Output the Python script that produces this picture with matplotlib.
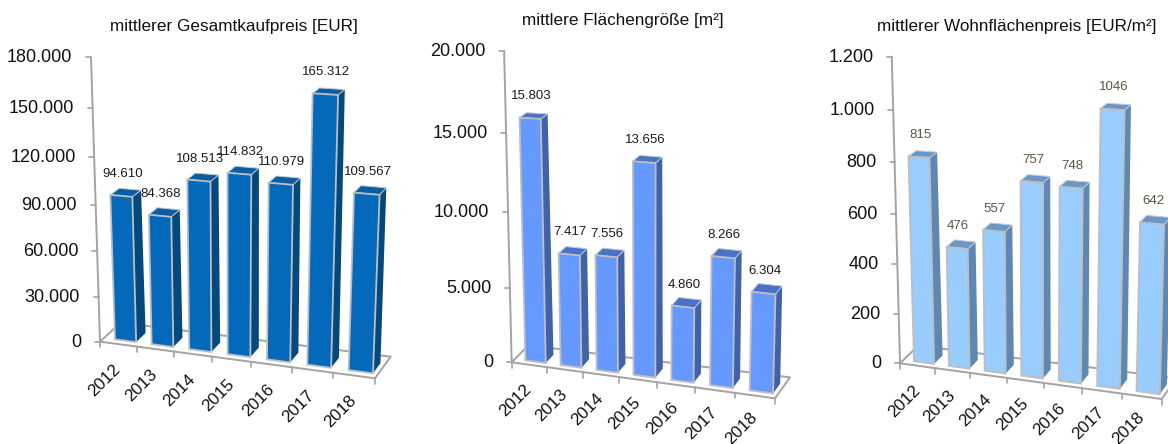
import matplotlib
matplotlib.use("Agg")
import matplotlib.pyplot as plt
from matplotlib.patches import Polygon

plt.rcParams['font.family'] = ['Liberation Sans', 'DejaVu Sans']

years = [2012, 2013, 2014, 2015, 2016, 2017, 2018]

kaufpreis = [94610, 84368, 108513, 114832, 110979, 165312, 109567]
kaufpreis_ticks = [0, 30000, 60000, 90000, 120000, 150000, 180000]

flaeche = [15803, 7417, 7556, 13656, 4860, 8266, 6304]
flaeche_ticks = [0, 5000, 10000, 15000, 20000]

wohnpreis = [815, 476, 557, 757, 748, 1046, 642]
wohnpreis_ticks = [0, 200, 400, 600, 800, 1000, 1200]

titles = ["mittlerer Gesamtkaufpreis [EUR]", "mittlere Flächengröße [m²]",
          "mittlerer Wohnflächenpreis [EUR/m²]"]


def de(v):
    return f"{v:,}".replace(",", ".")


class Panel:
    """Perspective projection of (category u, depth d, value v) to figure pixels."""

    def __init__(self, ox, FL, FR, BL, BR, a, b, xc, k, vmax):
        self.ox, self.FL, self.FR, self.BL, self.BR = ox, FL, FR, BL, BR
        self.a, self.b, self.xc, self.k, self.vmax = a, b, xc, k, vmax

    def warp(self, u):
        s = u / 7
        c = 0.08
        return s * (1 - c) / (1 - c * s)

    def floor(self, u, d):
        w = self.warp(u)
        fx = self.FL[0] + (self.FR[0] - self.FL[0]) * w
        fy = self.FL[1] + (self.FR[1] - self.FL[1]) * w
        bx = self.BL[0] + (self.BR[0] - self.BL[0]) * w
        by = self.BL[1] + (self.BR[1] - self.BL[1]) * w
        return fx, fy, bx - fx, by - fy

    def zoom_xy(self, u, d, v):
        fx, fy, dx, dy = self.floor(u, d)
        t = v / self.vmax
        x = fx + dx * d * (1 - 0.15 * t)
        y = fy + dy * d * (1 - 0.5 * t)
        off = fx - self.FL[0]
        scale = 1 + 0.008 * min(off / 40, 1) + 0.055 * max(off - 40, 0) / 700
        h = self.a * t / (1 + self.b * t) * scale
        return x + self.k * (fx - self.xc) * t, y - h

    def xy(self, u, d, v):
        x, y = self.zoom_xy(u, d, v)
        return self.ox + x / 3, y / 3


panels = [
    Panel(0, (300, 1025), (1125, 1135), (362, 968), (1172, 1070), 795, -0.068, 660, 0.075, 180000),
    Panel(400, (335, 1087), (1125, 1195), (385, 1036), (1170, 1132), 873, -0.066, 713, 0.06, 20000),
    Panel(800, (300, 1090), (1085, 1197), (355, 1037), (1130, 1135), 875, -0.049, 680, 0.065, 1200),
]
series = [kaufpreis, flaeche, wohnpreis]
tick_sets = [kaufpreis_ticks, flaeche_ticks, wohnpreis_ticks]
face_colors = [("#0469BB", "#02497F", "#0A5CA3"),
               ("#6699FF", "#3F62AB", "#4A72C6"),
               ("#99CCFF", "#5F87B3", "#6B96C6")]
value_colors = ["#1a1a1a", "#1a1a1a", "#5A5540"]
title_xy = [(234, 27), (623, 20), (1017, 26)]
label_rise = [0, 0.6, 0.6]

AXIS = "#A3A3A3"
EDGE = "#BEBEBE"
D0, D1 = 0.2, 0.67
U0, U1 = 0.3, 0.88

fig = plt.figure(figsize=(11.68, 4.44), dpi=100, facecolor="white")
ax = fig.add_axes([0, 0, 1, 1])
ax.set_xlim(0, 1168)
ax.set_ylim(444, 0)
ax.axis("off")


def line(pts, lw=1.4, z=1):
    ax.plot([p[0] for p in pts], [p[1] for p in pts], color=AXIS, lw=lw, zorder=z,
            solid_capstyle="round", solid_joinstyle="round")


for idx, (p, vals, ticks) in enumerate(zip(panels, series, tick_sets)):
    vmax = p.vmax
    # floor outline
    line([p.xy(0, 1, 0), p.xy(0, 0, 0), p.xy(7, 0, 0), p.xy(7, 1, 0), p.xy(0, 1, 0)])
    # value axis
    line([p.xy(0, 0, 0), p.xy(0, 0, vmax)])
    for tv in ticks:
        x, y = p.xy(0, 0, tv)
        line([(x - 5, y), (x, y)], lw=1.2)
        ax.text(x - 18.5, y + 0.5, de(tv), ha="right", va="center", fontsize=13, color="#111111", zorder=5)
    # category ticks + labels
    for i in range(8):
        x, y = p.xy(i, 0, 0)
        line([(x, y), (x, y + 5.5)], lw=1.2)
    for i, yr in enumerate(years):
        x, y = p.xy(i + 0.5, 0, 0)
        ax.text(x - 13.3, y + 36 - label_rise[idx] * i, str(yr), rotation=45, ha="center", va="center",
                rotation_mode="anchor", fontsize=12.3, color="#111111", zorder=5)
    # bars
    front, side, top = face_colors[idx]
    for i, v in enumerate(vals):
        u0, u1 = i + U0, i + U1
        ax.add_patch(Polygon([p.xy(u1, D0, 0), p.xy(u1, D1, 0), p.xy(u1, D1, v), p.xy(u1, D0, v)],
                             closed=True, fc=side, ec="none", zorder=2))
        ax.add_patch(Polygon([p.xy(u0, D0, v), p.xy(u1, D0, v), p.xy(u1, D1, v), p.xy(u0, D1, v)],
                             closed=True, fc=top, ec="#C4CCD4", lw=0.7, zorder=2))
        ax.add_patch(Polygon([p.xy(u0, D0, 0), p.xy(u1, D0, 0), p.xy(u1, D0, v), p.xy(u0, D0, v)],
                             closed=True, fc=front, ec=EDGE, lw=1.3, zorder=2.1))
        xa, ya = p.xy(u0, D0, v)
        xb, yb = p.xy(u1, D0, v)
        ax.text((xa + xb) / 2 + 1.0, (ya + yb) / 2 - 22, de(v) if idx < 2 else str(v),
                ha="center", va="center", fontsize=9.5, color=value_colors[idx], zorder=6)
    ax.text(title_xy[idx][0], title_xy[idx][1], titles[idx], ha="center", va="center",
            fontsize=12.3, color="#111111", zorder=6)

fig.savefig("out.png", dpi=100, facecolor="white")
